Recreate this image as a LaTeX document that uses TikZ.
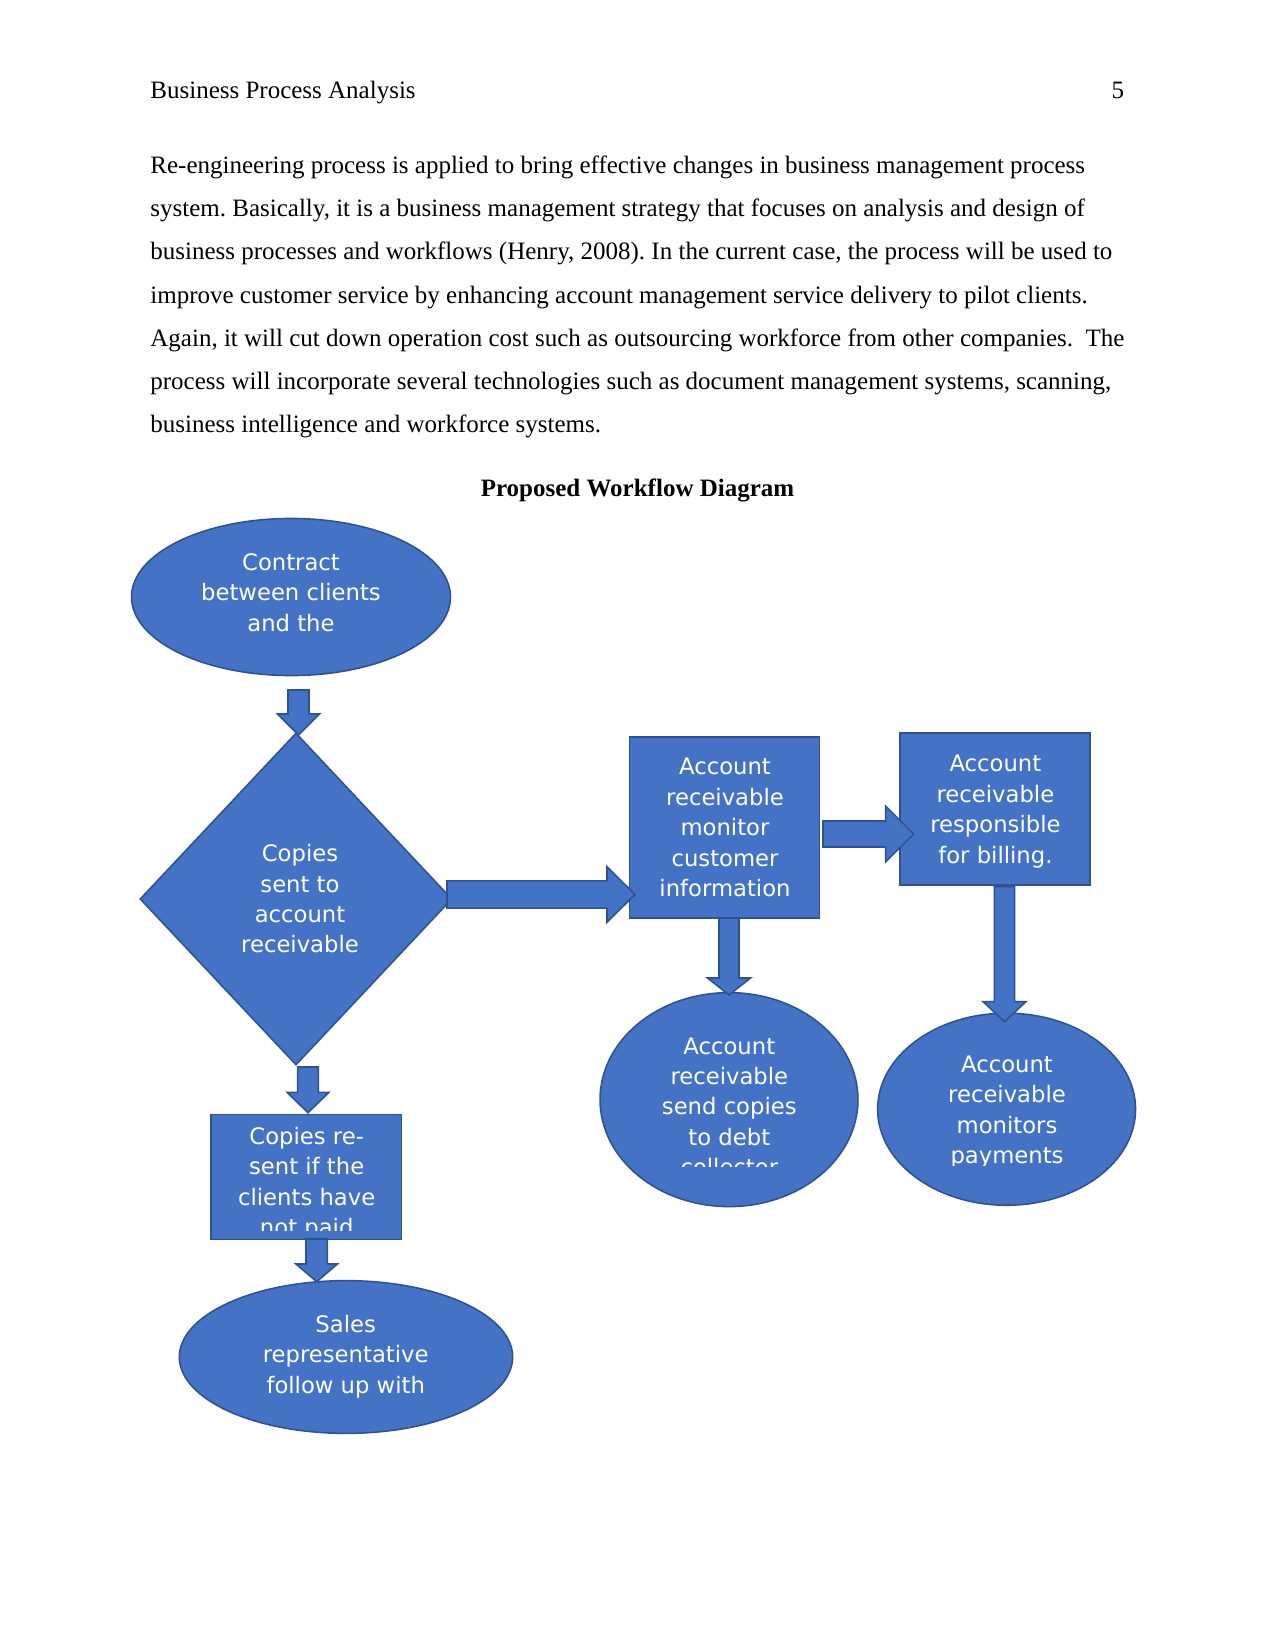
\documentclass[tikz,border=0pt]{standalone}
\usepackage{fontspec}
\setmainfont{Liberation Serif}
\newfontfamily\shapefont{DejaVu Sans}
\usetikzlibrary{shapes.geometric,calc}
\definecolor{fillblue}{HTML}{4472C4}
\definecolor{edgeblue}{HTML}{2F528F}
\tikzset{
  bodytxt/.style={anchor=base west, inner sep=0pt, font=\fontsize{12}{14}\selectfont},
  shp/.style={draw=edgeblue, fill=fillblue, line width=0.75pt, inner sep=0pt},
  ovalshape/.style={shp, ellipse},
  boxshape/.style={shp, rectangle},
  diashape/.style={shp, diamond},
  stxt/.style={text=white, align=center, inner sep=0pt, font=\shapefont\fontsize{10.9}{14.6}\selectfont},
  blk/.style={draw=edgeblue, fill=fillblue, line width=0.75pt, line join=miter}
}
% down block arrow: start, end, shaft half, head half, head length (px)
\newcommand\arrowdown[5]{%
  \draw[blk] ($(#1)+(-#3,0)$) -- ($(#1|-#2)+(-#3,-#5)$) -- ($(#1|-#2)+(-#4,-#5)$) -- (#1|-#2)
    -- ($(#1|-#2)+(#4,-#5)$) -- ($(#1|-#2)+(#3,-#5)$) -- ($(#1)+(#3,0)$) -- cycle;}
% right block arrow
\newcommand\arrowright[5]{%
  \draw[blk] ($(#1)+(0,-#3)$) -- ($(#2|-#1)+(-#5,-#3)$) -- ($(#2|-#1)+(-#5,-#4)$) -- (#2|-#1)
    -- ($(#2|-#1)+(-#5,#4)$) -- ($(#2|-#1)+(-#5,#3)$) -- ($(#1)+(0,#3)$) -- cycle;}
\begin{document}
\begin{tikzpicture}[x=0.48pt,y=-0.48pt]
\fill[white] (0,0) rectangle (1275,1651);
\useasboundingbox (0,0) rectangle (1275,1651);
\frenchspacing
% header and body text
\node[bodytxt] (hdr) at (150,98.5) {Business Process Analysis};
\node[bodytxt, anchor=base east] (pg) at (1124.5,98.5) {5};
\node[bodytxt] (l1) at (150,173.8) {Re-engineering process is applied to bring effective changes in business management process};
\node[bodytxt] (l2) at (150,216.9) {system. Basically, it is a business management strategy that focuses on analysis and design of};
\node[bodytxt] (l3) at (150,260.0) {business processes and workflows (Henry, 2008). In the current case, the process will be used to};
\node[bodytxt] (l4) at (150,303.1) {improve customer service by enhancing account management service delivery to pilot clients.};
\node[bodytxt] (l5) at (150,346.2) {Again, it will cut down operation cost such as outsourcing workforce from other companies.\ \ The};
\node[bodytxt] (l6) at (150,389.3) {process will incorporate several technologies such as document management systems, scanning,};
\node[bodytxt] (l7) at (150,432.4) {business intelligence and workforce systems.};
\node[bodytxt, anchor=base, font=\bfseries\fontsize{12}{14}\selectfont] (title) at (637.5,496.5) {Proposed Workflow Diagram};

% shapes
\node[ovalshape, minimum width=153.1pt, minimum height=75.4pt] (c1) at (291,597) {};
\node[diashape, minimum width=149.8pt, minimum height=159.4pt] (d1) at (296,899) {};
\node[boxshape, minimum width=91.2pt, minimum height=86.9pt] (b1) at (724.3,827.7) {};
\node[boxshape, minimum width=91.2pt, minimum height=73pt] (b2) at (995.2,809.2) {};
\node[ovalshape, minimum width=123.8pt, minimum height=102.7pt] (e2) at (729,1099.6) {};
\node[ovalshape, minimum width=123.8pt, minimum height=92.2pt] (e3) at (1006.6,1109.2) {};
\node[boxshape, minimum width=91.5pt, minimum height=60pt] (b3) at (306.3,1176.8) {};
\node[ovalshape, minimum width=160pt, minimum height=73.3pt] (e4) at (346,1357) {};

% texts
\node[stxt] (t1) at (291,594.9) {\strut Contract\\\strut between clients\\\strut and the};
\node[stxt] (t2) at (300,901.2) {\strut Copies\\\strut sent to\\\strut account\\\strut receivable};
\node[stxt] (t3) at (725,829.7) {\strut Account\\\strut receivable\\\strut monitor\\\strut customer\\\strut information};
\node[stxt] (t4) at (995.4,811.4) {\strut Account\\\strut receivable\\\strut responsible\\\strut for billing.};
\begin{scope}
\clip (600,1000) rectangle (860,1166.7);
\node[stxt] (t5) at (729.3,1108.8) {\strut Account\\\strut receivable\\\strut send copies\\\strut to debt\\\strut collector};
\end{scope}
\begin{scope}
\clip (880,1020) rectangle (1135,1165);
\node[stxt] (t6) at (1007,1111.9) {\strut Account\\\strut receivable\\\strut monitors\\\strut payments};
\end{scope}
\begin{scope}
\clip (212,1115) rectangle (401,1230.7);
\node[stxt] (t7) at (306.7,1183.7) {\strut Copies re-\\\strut sent if the\\\strut clients have\\\strut not paid};
\end{scope}
\node[stxt] (t8) at (345.7,1356.7) {\strut Sales\\\strut representative\\\strut follow up with};

% connectors (block arrows)
\coordinate (a1s) at (298.5,690);   \coordinate (a1e) at (298.5,735);
\coordinate (a2s) at (447,894.5);   \coordinate (a2e) at (635,894.5);
\coordinate (a3s) at (823,834);     \coordinate (a3e) at (913.6,834);
\coordinate (a4s) at (729,918);     \coordinate (a4e) at (729,995);
\coordinate (a5s) at (1004.5,886.7); \coordinate (a5e) at (1004.5,1021.7);
\coordinate (a6s) at (308,1067);    \coordinate (a6e) at (308,1112.7);
\coordinate (a7s) at (316.7,1239);  \coordinate (a7e) at (316.7,1281.7);
\arrowdown{a1s}{a1e}{10.5}{21}{21}
\arrowright{a2s}{a2e}{13.7}{27.7}{28}
\arrowright{a3s}{a3e}{13}{28}{28}
\arrowdown{a4s}{a4e}{10}{21.5}{17}
\arrowdown{a5s}{a5e}{10.2}{21.4}{20}
\arrowdown{a6s}{a6e}{10.3}{21}{20.4}
\arrowdown{a7s}{a7e}{10.7}{20.7}{17.7}
\end{tikzpicture}
\end{document}
